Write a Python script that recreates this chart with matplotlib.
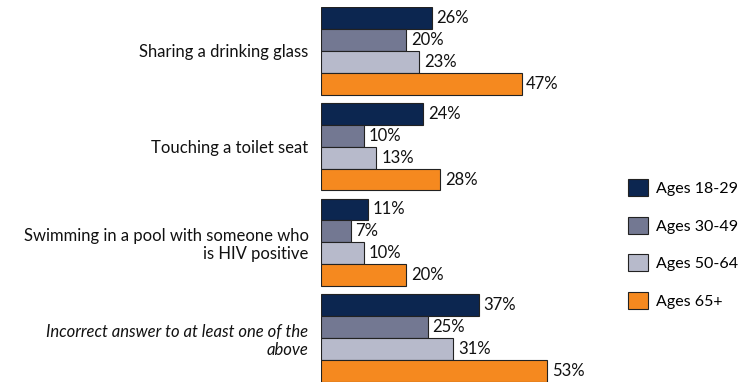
import numpy as np
import matplotlib.pyplot as plt
from matplotlib.patches import Patch

plt.rcParams['font.family'] = ['Lato', 'DejaVu Sans']

categories = ['Sharing a drinking glass', 'Touching a toilet seat',
              'Swimming in a pool with someone who\nis HIV positive',
              'Incorrect answer to at least one of the\nabove']
series = ['Ages 18-29', 'Ages 30-49', 'Ages 50-64', 'Ages 65+']
values = [
    [26, 24, 11, 37],
    [20, 10, 7, 25],
    [23, 13, 10, 31],
    [47, 28, 20, 53],
]
colors = ['#0C2650', '#737892', '#B7BACB', '#F5891F']

fig = plt.figure(figsize=(7.46, 3.83), dpi=100)
ax = fig.add_axes([321 / 746, 1 / 383, 256 / 746, 375 / 383])

h = 0.229
fs = 12
y = np.arange(len(categories))
for i, (name, vals, c) in enumerate(zip(series, values, colors)):
    pos = y - 1.5 * h + i * h
    ax.barh(pos, vals, height=h, color=c, edgecolor='#222222', linewidth=0.8, label=name)
    for p, v in zip(pos, vals):
        ax.text(v + 1.1, p, f'{v}%', va='center', ha='left', fontsize=fs, color='#111111')

ax.set_xlim(0, 60)
ax.set_ylim(3 + 2 * h, -2 * h)
ax.set_yticks(y)
ax.set_yticklabels(categories, fontsize=fs, color='#111111')
ax.get_yticklabels()[3].set_style('italic')
ax.tick_params(axis='y', length=0, pad=9)
ax.set_xticks([])
for s in ax.spines.values():
    s.set_visible(False)

handles = [Patch(facecolor=c, edgecolor='#222222', linewidth=0.8) for c in colors]
fig.legend(handles, series, loc='center left', bbox_to_anchor=(614 / 746, 1 - 244 / 383),
           frameon=False, fontsize=11.5, handlelength=1.25, handleheight=1.25,
           labelspacing=1.3, handletextpad=0.5)

fig.savefig('out.png', dpi=100)
